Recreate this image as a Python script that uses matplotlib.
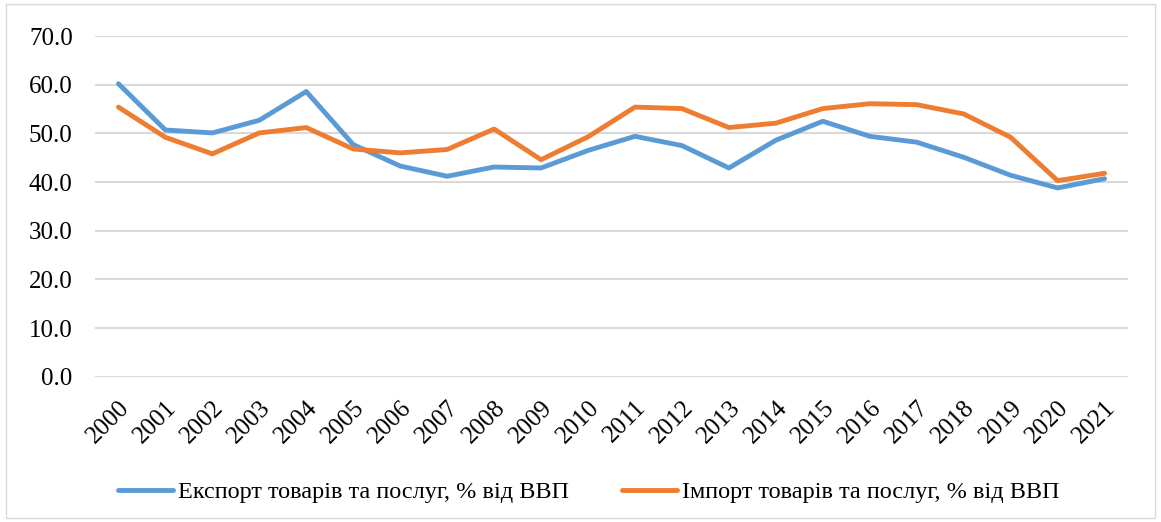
import matplotlib.pyplot as plt
from matplotlib.patches import Rectangle

years = [str(y) for y in range(2000, 2022)]
export_gdp = [60.2, 50.7, 50.1, 52.7, 58.6, 47.7, 43.3, 41.2, 43.1, 42.9, 46.5,
              49.4, 47.5, 42.9, 48.6, 52.5, 49.4, 48.2, 45.1, 41.4, 38.8, 40.7]
import_gdp = [55.4, 49.2, 45.8, 50.1, 51.2, 46.8, 46.0, 46.7, 50.9, 44.6, 49.3,
              55.4, 55.1, 51.2, 52.1, 55.1, 56.1, 55.9, 54.0, 49.2, 40.3, 41.8]
labels = ['Експорт товарів та послуг, % від ВВП',
          'Імпорт товарів та послуг, % від ВВП']

plt.rcParams['font.family'] = ['Liberation Serif', 'DejaVu Serif']

fig = plt.figure(figsize=(11.61, 5.22), dpi=100)
ax = fig.add_axes([0.0818, 0.278, 0.8898, 0.653])

x = range(len(years))
ax.plot(x, export_gdp, color='#5B9BD5', linewidth=3.5, label=labels[0],
        solid_capstyle='round', solid_joinstyle='round')
ax.plot(x, import_gdp, color='#ED7D31', linewidth=3.5, label=labels[1],
        solid_capstyle='round', solid_joinstyle='round')

ax.set_xlim(-0.5, len(years) - 0.5)
ax.set_ylim(0, 70)
ax.set_yticks(range(0, 71, 10))
ax.set_yticklabels(['%.1f' % v for v in range(0, 71, 10)], fontsize=18)
ax.set_xticks(list(x))
ax.set_xticklabels(years, fontsize=18, rotation=45, ha='right',
                   rotation_mode='anchor')
ax.tick_params(axis='both', length=0)
ax.tick_params(axis='y', pad=16)
ax.tick_params(axis='x', pad=14)
ax.grid(axis='y', color='#D9D9D9', linewidth=1.5)
ax.set_axisbelow(True)
for s in ax.spines.values():
    s.set_visible(False)

fig.legend(loc='center', bbox_to_anchor=(0.507, 0.057), ncol=2, frameon=False,
           fontsize=17.5, handlelength=2.26, handletextpad=0.2, columnspacing=2.2)

fig.patches.append(Rectangle((0.005, 0.008), 0.99, 0.985, transform=fig.transFigure,
                             fill=False, edgecolor='#D9D9D9', linewidth=1.0))

fig.savefig('out.png', dpi=100)
